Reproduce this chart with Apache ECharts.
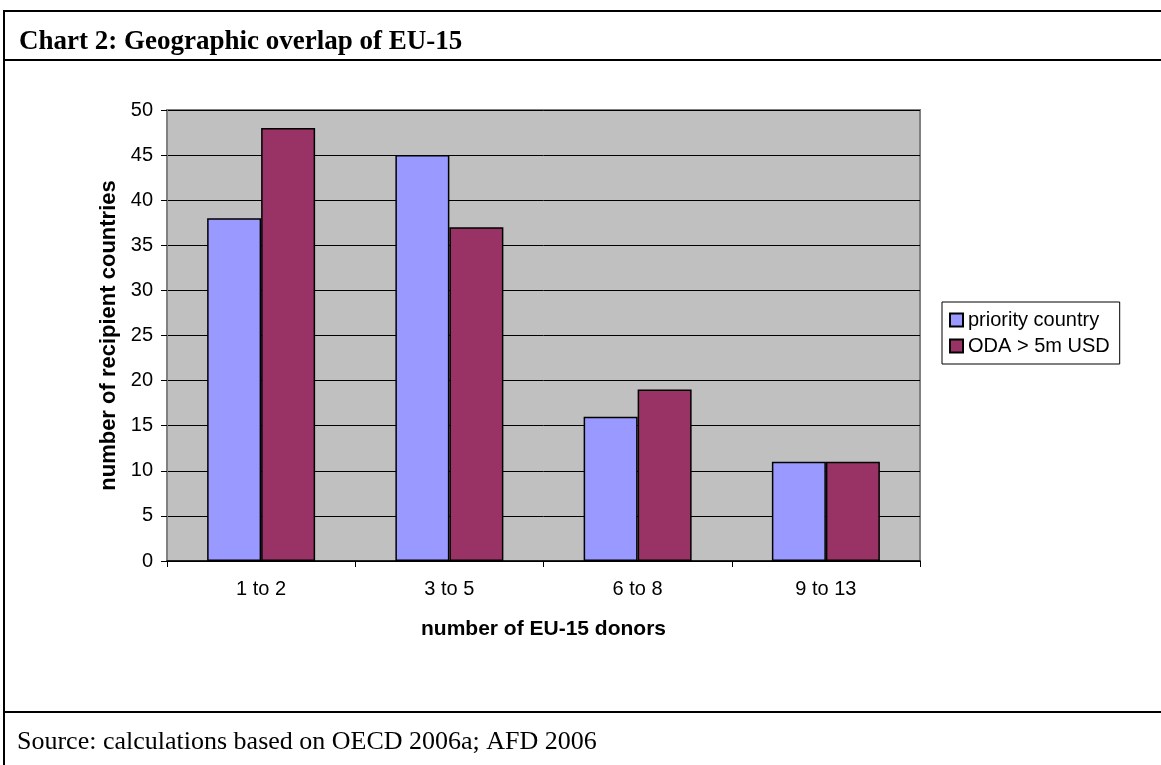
<!DOCTYPE html>
<html>
<head>
<meta charset="utf-8">
<script src="https://cdn.jsdelivr.net/npm/echarts@6/dist/echarts.min.js"></script>
<style>
  html, body { margin: 0; padding: 0; background: #fff; }
  #main { width: 1161px; height: 765px; }
</style>
</head>
<body>
<div id="main"></div>
<script>
// data
const categories = ['1 to 2', '3 to 5', '6 to 8', '9 to 13']
const priorityCountry = [38, 45, 16, 11]
const odaOver5m = [48, 37, 19, 11]
const seriesNames = ['priority country', 'ODA > 5m USD']

const titleText = 'Chart 2: Geographic overlap of EU-15'
const sourceText = 'Source: calculations based on OECD 2006a; AFD 2006'

const chart = echarts.init(document.getElementById('main'))

const sans = '"Liberation Sans", Arial, sans-serif'
const serif = '"Liberation Serif", "Times New Roman", serif'

const barStyle = (color) => ({
  color: color,
  borderColor: '#000',
  borderWidth: 1.5
})

chart.setOption({
  animation: false,
  backgroundColor: '#fff',
  title: [{
    text: titleText,
    left: 14,
    top: 24,
    textStyle: { fontFamily: serif, fontWeight: 'bold', fontSize: 27, color: '#000' }
  }, {
    text: sourceText,
    left: 12,
    top: 724,
    textStyle: { fontFamily: serif, fontWeight: 'normal', fontSize: 26, color: '#000' }
  }],
  graphic: [
    // frame round the figure
    { type: 'line', shape: { x1: 4, y1: 11, x2: 1161, y2: 11 }, style: { stroke: '#000', lineWidth: 2 } },
    { type: 'line', shape: { x1: 4, y1: 60, x2: 1161, y2: 60 }, style: { stroke: '#000', lineWidth: 2 } },
    { type: 'line', shape: { x1: 4, y1: 712, x2: 1161, y2: 712 }, style: { stroke: '#000', lineWidth: 2 } },
    { type: 'line', shape: { x1: 4, y1: 10, x2: 4, y2: 765 }, style: { stroke: '#000', lineWidth: 2 } }
  ],
  legend: {
    orient: 'vertical',
    left: 942,
    top: 302,
    padding: [8, 10, 8, 7],
    itemGap: 6,
    itemWidth: 13,
    itemHeight: 13,
    icon: 'rect',
    borderColor: '#000',
    borderWidth: 1,
    backgroundColor: '#fff',
    textStyle: { fontFamily: sans, fontSize: 20, color: '#000' },
    data: seriesNames
  },
  grid: {
    left: 167,
    right: 241,
    top: 110,
    bottom: 204,
    show: true,
    backgroundColor: '#C0C0C0',
    borderColor: '#808080',
    borderWidth: 2
  },
  xAxis: {
    type: 'category',
    data: categories,
    name: 'number of EU-15 donors',
    nameLocation: 'middle',
    nameGap: 58,
    nameTextStyle: { fontFamily: sans, fontWeight: 'bold', fontSize: 21, color: '#000' },
    axisLine: { lineStyle: { color: '#000', width: 1.5 } },
    axisTick: { show: true, length: 6, lineStyle: { color: '#000' } },
    axisLabel: { margin: 18, fontFamily: sans, fontSize: 20, color: '#000' }
  },
  yAxis: {
    type: 'value',
    min: 0,
    max: 50,
    interval: 5,
    name: 'number of recipient countries',
    nameLocation: 'middle',
    nameGap: 47,
    nameTextStyle: { fontFamily: sans, fontWeight: 'bold', fontSize: 22, color: '#000' },
    axisLine: { show: true, lineStyle: { color: '#808080', width: 2 } },
    axisTick: { show: true, length: 6, lineStyle: { color: '#000' } },
    axisLabel: { margin: 14, fontFamily: sans, fontSize: 20, color: '#000' },
    splitLine: { show: true, lineStyle: { color: '#000', width: 1 } }
  },
  series: [{
    name: seriesNames[0],
    type: 'bar',
    data: priorityCountry,
    barWidth: 54,
    barGap: '0%',
    itemStyle: barStyle('#9999FF')
  }, {
    name: seriesNames[1],
    type: 'bar',
    data: odaOver5m,
    barWidth: 54,
    barGap: '0%',
    itemStyle: barStyle('#993366')
  }]
})
</script>
</body>
</html>
